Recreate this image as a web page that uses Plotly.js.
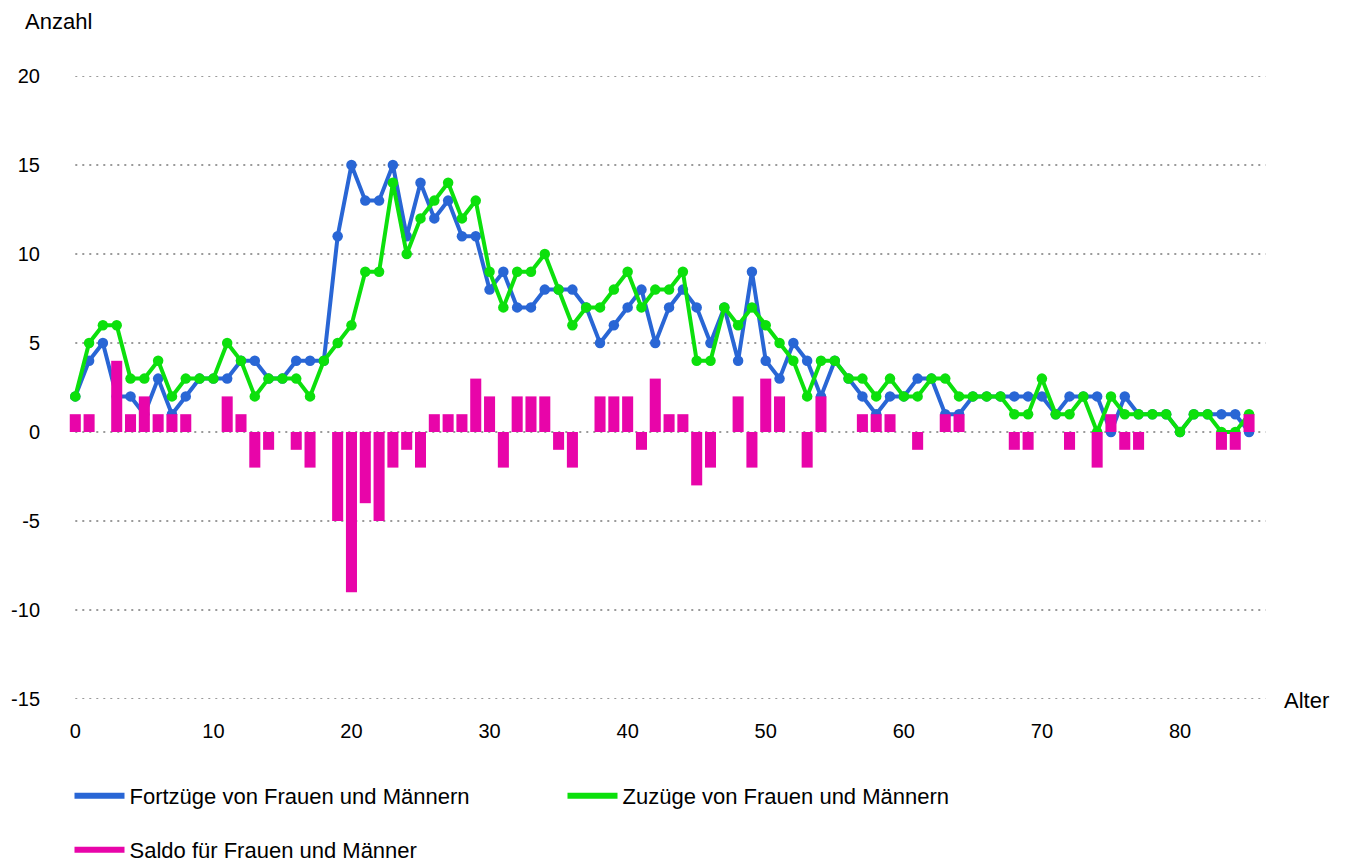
<!DOCTYPE html>
<html><head><meta charset="utf-8">
<script src="https://cdn.plot.ly/plotly-3.0.1.min.js"></script>
<style>html,body{margin:0;padding:0;background:#fff;} #chart{width:1346px;height:862px;}</style>
</head><body><div id="chart"></div>
<script>
const ages = [0,1,2,3,4,5,6,7,8,9,10,11,12,13,14,15,16,17,18,19,20,21,22,23,24,25,26,27,28,29,30,31,32,33,34,35,36,37,38,39,40,41,42,43,44,45,46,47,48,49,50,51,52,53,54,55,56,57,58,59,60,61,62,63,64,65,66,67,68,69,70,71,72,73,74,75,76,77,78,79,80,81,82,83,84,85];
const fortzuege = [2,4,5,2,2,1,3,1,2,3, 3,3,4,4,3,3,4,4,4,11, 15,13,13,15,11,14,12,13,11,11, 8,9,7,7,8,8,8,7,5,6, 7,8,5,7,8,7,5,7,4,9, 4,3,5,4,2,4,3,2,1,2, 2,3,3,1,1,2,2,2,2,2, 2,1,2,2,2,0,2,1,1,1, 0,1,1,1,1,0];
const zuzuege = [2,5,6,6,3,3,4,2,3,3, 3,5,4,2,3,3,3,2,4,5, 6,9,9,14,10,12,13,14,12,13, 9,7,9,9,10,8,6,7,7,8, 9,7,8,8,9,4,4,7,6,7, 6,5,4,2,4,4,3,3,2,3, 2,2,3,3,2,2,2,2,1,1, 3,1,1,2,0,2,1,1,1,1, 0,1,1,0,0,1];
const saldo = [1,1,0,4,1,2,1,1,1,0, 0,2,1,-2,-1,0,-1,-2,0,-5, -9,-4,-5,-2,-1,-2,1,1,1,3, 2,-2,2,2,2,-1,-2,0,2,2, 2,-1,3,1,1,-3,-2,0,2,-2, 3,2,0,-2,2,0,0,1,1,1, 0,-1,0,1,1,0,0,0,-1,-1, 0,0,-1,0,-2,1,-1,-1,0,0, 0,0,0,-1,-1,1];
const xTickVals = [0,10,20,30,40,50,60,70,80];
const xTickText = ['0','10','20','30','40','50','60','70','80'];
const yTickVals = [-15,-10,-5,0,5,10,15,20];
const yTickText = ['-15','-10','-5','0','5','10','15','20'];
const names = ['Fortzüge von Frauen und Männern','Zuzüge von Frauen und Männern','Saldo für Frauen und Männer'];
const colors = ['#2966d5','#0ce00c','#e805a9'];

const FONT = '"Liberation Sans", Arial, sans-serif';

const data = [
  {type:'scatter', mode:'lines+markers', x:ages, y:fortzuege, name:names[0], showlegend:false, legendgroup:'f',
   line:{color:colors[0], width:4}, marker:{color:colors[0], size:10.5}, yaxis:'y'},
  {type:'scatter', mode:'lines+markers', x:ages, y:zuzuege, name:names[1], showlegend:false, legendgroup:'z',
   line:{color:colors[1], width:4}, marker:{color:colors[1], size:10.5}, yaxis:'y'},
  {type:'bar', x:ages, y:saldo, name:names[2], showlegend:false, legendgroup:'s',
   marker:{color:colors[2], line:{width:0}}, yaxis:'y2'},
  // legend entries
  {type:'scatter', mode:'lines', x:[null], y:[null], name:names[0], legendgroup:'f', legend:'legend',
   line:{color:colors[0], width:6}},
  {type:'scatter', mode:'lines', x:[null], y:[null], name:names[1], legendgroup:'z', legend:'legend2',
   line:{color:colors[1], width:6}},
  {type:'scatter', mode:'lines', x:[null], y:[null], name:names[2], legendgroup:'s', legend:'legend3',
   line:{color:colors[2], width:6}}
];

const legendBase = {orientation:'h', xref:'container', yref:'container', xanchor:'left', yanchor:'middle',
  bgcolor:'rgba(0,0,0,0)', font:{family:FONT, size:22, color:'#000'}, itemwidth:50};

const layout = {
  width:1346, height:862,
  margin:{l:67, r:79, t:76, b:163, autoexpand:false},
  paper_bgcolor:'#ffffff', plot_bgcolor:'#ffffff',
  font:{family:FONT, size:22, color:'#000'},
  bargap:0.2,
  hovermode:false,
  xaxis:{range:[-0.6,86.3], tickvals:xTickVals, ticktext:xTickText, showgrid:false, zeroline:false,
    showline:false, ticks:'', ticklabelstandoff:18, tickfont:{family:FONT, size:20, color:'#000'}},
  yaxis:{range:[-15,20], tickvals:yTickVals, ticktext:yTickText, showgrid:false, zeroline:false,
    showline:false, ticks:'', ticklabelstandoff:26, tickfont:{family:FONT, size:20, color:'#000'}},
  yaxis2:{overlaying:'y', range:[-15,20], visible:false, showgrid:false, zeroline:false},
  shapes: yTickVals.map(v => ({type:'line', xref:'x', yref:'y', x0:0, x1:86.2, y0:v, y1:v, layer:'below',
    line:{color:'#9a9a9a', width:2, dash:'2px,5px'}})),
  annotations:[
    {text:'Anzahl', xref:'paper', yref:'paper', x:0, y:1, xanchor:'left', yanchor:'middle',
     xshift:-44, yshift:55, showarrow:false, font:{family:FONT, size:22, color:'#000'}},
    {text:'Alter', xref:'paper', yref:'paper', x:1, y:0, xanchor:'left', yanchor:'middle',
     xshift:15, yshift:-1, showarrow:false, font:{family:FONT, size:22, color:'#000'}}
  ],
  legend: Object.assign({}, legendBase, {x:69.5/1346, y:1-796/862}),
  legend2: Object.assign({}, legendBase, {x:562.5/1346, y:1-796/862}),
  legend3: Object.assign({}, legendBase, {x:69.5/1346, y:1-850/862})
};

Plotly.newPlot('chart', data, layout, {displayModeBar:false, staticPlot:true});
</script>
</body></html>
